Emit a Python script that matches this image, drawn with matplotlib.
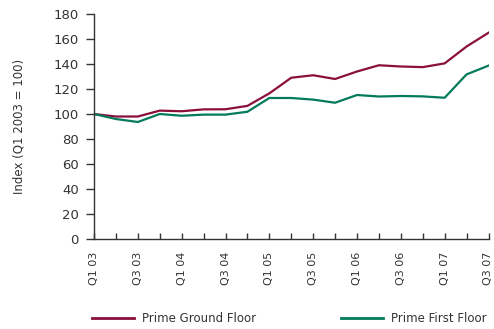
import matplotlib
matplotlib.use("Agg")
import matplotlib.pyplot as plt
from matplotlib.lines import Line2D

quarters = ["Q1 03", "Q2 03", "Q3 03", "Q4 03",
            "Q1 04", "Q2 04", "Q3 04", "Q4 04",
            "Q1 05", "Q2 05", "Q3 05", "Q4 05",
            "Q1 06", "Q2 06", "Q3 06", "Q4 06",
            "Q1 07", "Q2 07", "Q3 07"]
ground_floor = [100, 98, 98, 102.7, 102.2, 103.7, 103.8, 106.5, 116.5, 129,
                131, 128, 134, 139, 138, 137.5, 140.5, 154, 165]
first_floor = [100, 96, 93.6, 100, 98.6, 99.5, 99.5, 101.8, 112.8, 112.8,
               111.5, 109, 115.2, 114, 114.4, 114.1, 113, 131.7, 138.7]
yticks = list(range(0, 181, 20))

RED = "#8a0f3c"
GREEN = "#037a5c"
TXT = "#333333"

plt.rcParams["font.family"] = ["DejaVu Sans"]

fig = plt.figure(figsize=(4.94, 3.29), dpi=100)
ax = fig.add_axes([94 / 494, 1 - 239 / 329, (488.5 - 94) / 494, (239 - 14) / 329])

x = list(range(len(quarters)))
ax.plot(x, ground_floor, color=RED, lw=1.6, label="Prime Ground Floor")
ax.plot(x, first_floor, color=GREEN, lw=1.6, label="Prime First Floor")

ax.set_xlim(0, len(quarters) - 1)
ax.set_ylim(0, 180)
ax.set_yticks(yticks)
ax.set_yticklabels([str(v) for v in yticks], fontsize=9.5, color=TXT)
ax.set_xticks(x)
ax.set_xticklabels([q if i % 2 == 0 else "" for i, q in enumerate(quarters)],
                   rotation=90, fontsize=8, color=TXT)

for side in ("top", "right"):
    ax.spines[side].set_visible(False)
for side in ("left", "bottom"):
    ax.spines[side].set_color("#333333")
    ax.spines[side].set_linewidth(1.0)

ax.tick_params(axis="y", direction="out", length=6, width=1, color="#333333", pad=5)
ax.tick_params(axis="x", direction="in", length=4, width=1, color="#333333", pad=9)

ax.set_ylabel("Index (Q1 2003 = 100)", fontsize=8.5, color=TXT, labelpad=20)

# Two separate legend entries along the bottom of the figure
handles = ax.get_lines()
for line, xpos in zip(handles, (81, 330)):
    leg = fig.legend(handles=[Line2D([], [], color=line.get_color(), lw=2)],
                     labels=[line.get_label()],
                     loc="center left", bbox_to_anchor=(xpos / 494, 1 - 319 / 329),
                     frameon=False, fontsize=8.5, handlelength=3.6,
                     handletextpad=0.7, labelcolor=TXT)

fig.savefig("out.png", dpi=100)
